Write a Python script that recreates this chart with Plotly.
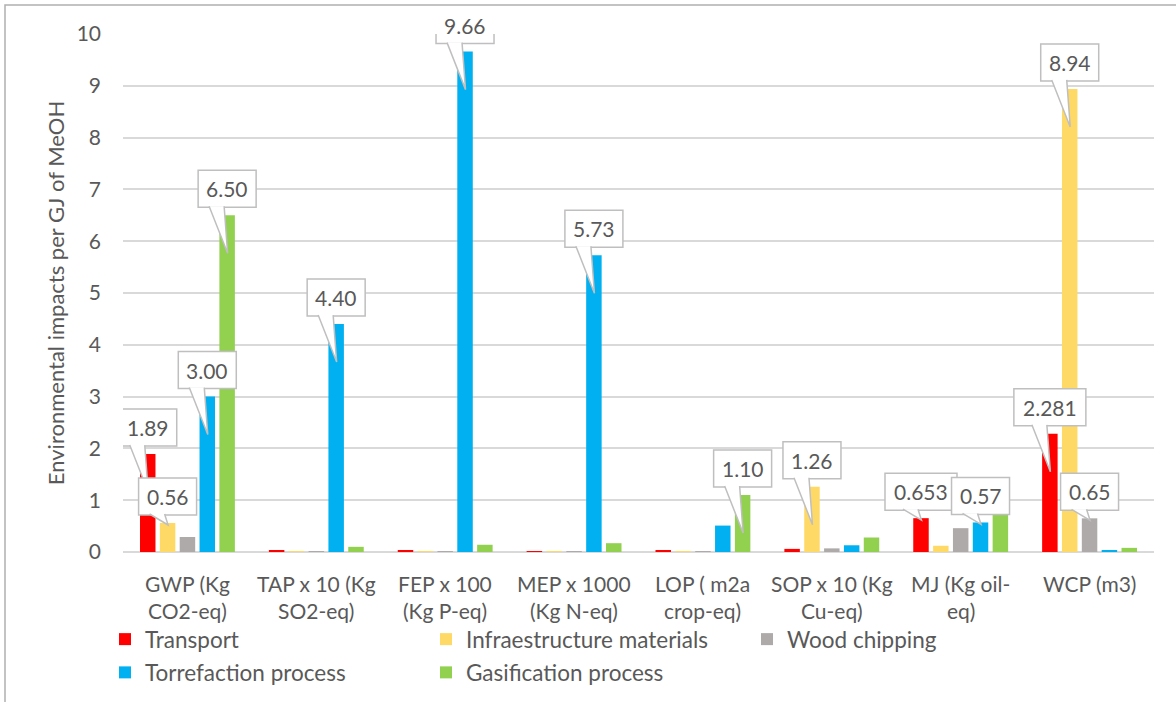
import plotly.graph_objects as go

# Impact categories (two text lines each, drawn under the groups)
cat_line1 = ["GWP (Kg", "TAP x 10 (Kg", "FEP x 100", "MEP x 1000",
             "LOP ( m2a", "SOP x 10 (Kg", "MJ (Kg oil-", "WCP (m3)"]
cat_line2 = ["CO2-eq)", "SO2-eq)", "(Kg P-eq)", "(Kg N-eq)",
             "crop-eq)", "Cu-eq)", "eq)", ""]

series_names = ["Transport", "Infraestructure materials", "Wood chipping",
                "Torrefaction process", "Gasification process"]

transport = [1.89, 0.03, 0.02, 0.01, 0.03, 0.06, 0.653, 2.281]
infrastructure = [0.56, 0.01, 0.01, 0.005, 0.01, 1.26, 0.12, 8.94]
wood_chipping = [0.29, 0.01, 0.005, 0.005, 0.01, 0.07, 0.46, 0.65]
torrefaction = [3.00, 4.40, 9.66, 5.73, 0.51, 0.13, 0.57, 0.02]
gasification = [6.50, 0.10, 0.14, 0.17, 1.10, 0.28, 0.72, 0.08]

series_values = [transport, infrastructure, wood_chipping, torrefaction, gasification]
series_colors = ["#FF0000", "#FFD966", "#AEAAAA", "#00B0F0", "#92D050"]

# Bars carrying a value callout: (series index, category index, decimals)
callouts = [(0, 0, 2), (1, 0, 2), (3, 0, 2), (4, 0, 2), (3, 1, 2), (3, 2, 2),
            (3, 3, 2), (4, 4, 2), (1, 5, 2), (0, 6, 3), (3, 6, 2), (0, 7, 3),
            (1, 7, 2), (2, 7, 2)]

y_ticks = list(range(0, 11))

# ---- geometry ----
W, H = 1176, 702
ML, MR, MT, MB = 123, 22, 34, 150
PLOT_W = W - ML - MR
PLOT_H = H - MT - MB
Y_MAX = 10
PX_PER_UNIT = PLOT_H / Y_MAX
BARGAP, GROUPGAP = 0.23, 0.22
N = len(series_names)
SLOT = (1 - BARGAP) / N

TEXT = "#595959"
GRID = "#D9D9D9"
FONT = "Lato, 'Open Sans', sans-serif"


def px_x(px):
    return (px - ML) / PLOT_W


def px_y(py):
    return (H - MB - py) / PLOT_H


x_idx = list(range(len(cat_line1)))

fig = go.Figure()
legend_ids = ["legend", "legend2", "legend3", "legend", "legend2"]
for i, (name, vals, col) in enumerate(zip(series_names, series_values, series_colors)):
    fig.add_trace(go.Bar(
        x=x_idx, y=vals, name=name, marker_color=col, marker_line_width=0,
        legend=legend_ids[i], legendgroup=name, hoverinfo="skip",
    ))

shapes = []
annotations = []

# value callouts: white box above the bar with a pointed tail
GAP, BOX_H = 8, 37
for s, c, dec in callouts:
    v = series_values[s][c]
    label = f"{v:.{dec}f}"
    xc = c + (s - (N - 1) / 2) * SLOT
    depth = 38 if v * PX_PER_UNIT > 45 else 2
    bw = 14 * len(label) + 2
    shapes.append(dict(
        type="rect", xref="x", yref="y", xsizemode="pixel", ysizemode="pixel",
        xanchor=xc, yanchor=v, x0=-bw / 2, x1=bw / 2, y0=GAP, y1=GAP + BOX_H,
        fillcolor="white", line=dict(color="#BFBFBF", width=1.5), layer="above",
    ))
    shapes.append(dict(
        type="path", xref="x", yref="y", xsizemode="pixel", ysizemode="pixel",
        xanchor=xc, yanchor=v,
        path=f"M-18,{GAP + 1} L0.5,{-depth} L-3,{GAP + 1}",
        fillcolor="white", line=dict(color="#BFBFBF", width=1.5), layer="above",
    ))
    annotations.append(dict(
        x=xc, y=v, xref="x", yref="y", yshift=GAP + BOX_H / 2,
        text=label, showarrow=False, xanchor="center", yanchor="middle",
        font=dict(family=FONT, size=21, color=TEXT),
    ))

# category labels, two lines per group
for c in x_idx:
    for line, py in ((cat_line1[c], 583), (cat_line2[c], 610)):
        if line:
            annotations.append(dict(
                x=c, y=px_y(py), xref="x", yref="paper", text=line,
                showarrow=False, xanchor="center", yanchor="middle",
                font=dict(family=FONT, size=21, color=TEXT),
            ))

# chart frame
shapes.append(dict(
    type="rect", xref="paper", yref="paper", x0=px_x(5), x1=px_x(W + 20),
    y0=px_y(H + 20), y1=px_y(5), line=dict(color="#B0B0B0", width=1.5),
    fillcolor="rgba(0,0,0,0)", layer="below",
))

legend_style = dict(
    orientation="v", xanchor="left", yanchor="top", y=px_y(618),
    font=dict(family=FONT, size=22.5, color=TEXT), tracegroupgap=1,
    bgcolor="rgba(0,0,0,0)", itemclick=False, itemdoubleclick=False,
)

fig.update_layout(
    width=W, height=H,
    margin=dict(l=ML, r=MR, t=MT, b=MB, autoexpand=False),
    paper_bgcolor="white", plot_bgcolor="white",
    barmode="group", bargap=BARGAP, bargroupgap=GROUPGAP,
    font=dict(family=FONT, color=TEXT),
    xaxis=dict(range=[-0.5, len(x_idx) - 0.5], showticklabels=False,
               showgrid=False, zeroline=False, fixedrange=True),
    yaxis=dict(
        range=[0, Y_MAX], tickvals=y_ticks, showgrid=True, gridcolor=GRID,
        gridwidth=1.5, zeroline=True, zerolinecolor=GRID, zerolinewidth=1.5,
        tickfont=dict(family=FONT, size=21, color=TEXT), ticklabelstandoff=21,
        title=dict(text="Environmental impacts per GJ of MeOH",
                   font=dict(family=FONT, size=22, color=TEXT), standoff=5),
        automargin=False, fixedrange=True,
    ),
    legend=dict(legend_style, x=px_x(105)),
    legend2=dict(legend_style, x=px_x(426)),
    legend3=dict(legend_style, x=px_x(747)),
    shapes=shapes, annotations=annotations,
    showlegend=True,
)

fig.write_html("out.html", config={"displayModeBar": False})
